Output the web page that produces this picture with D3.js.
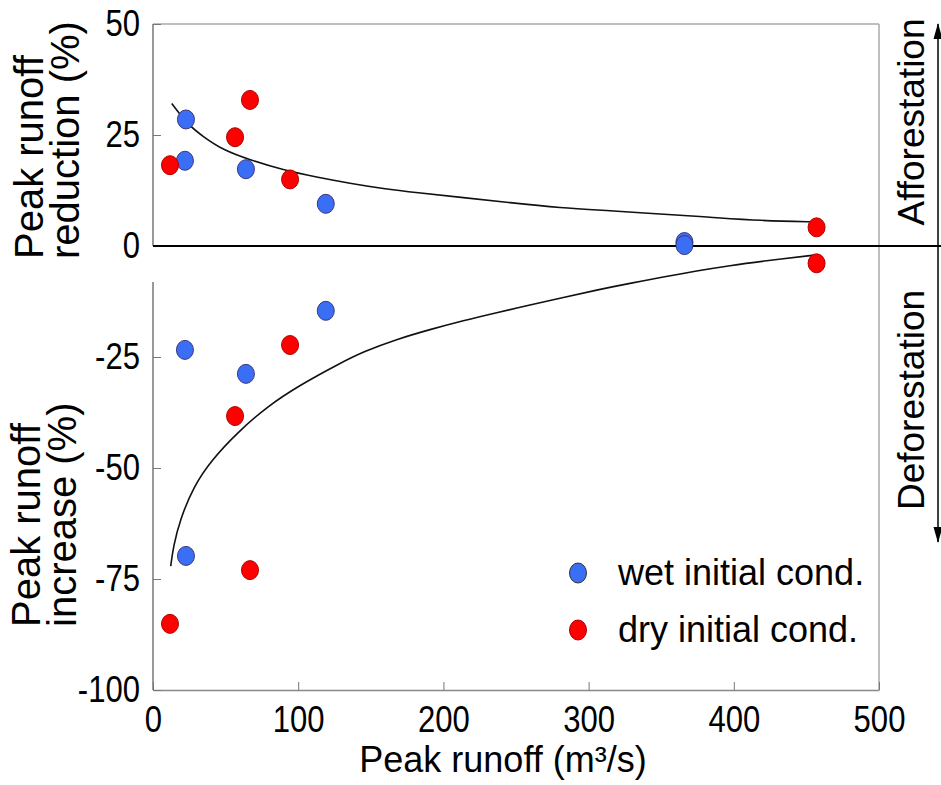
<!DOCTYPE html>
<html>
<head>
<meta charset="utf-8">
<script src="https://cdn.jsdelivr.net/npm/d3@7"></script>
<style>
  body { margin: 0; background: #fff; }
  svg { display: block; font-family: "Liberation Sans", Arial, sans-serif; }
</style>
</head>
<body>
<div id="chart"></div>
<script>
// Peak runoff change vs peak runoff, wet / dry initial conditions

const width = 941;
const height = 785;
const margin = {left: 153, right: 62, top: 24, bottom: 95};

// points (x = m3/s, y = %)
const wetX = [22.7, 22, 64, 119, 366, 366, 22, 64, 119, 22.7];
const wetY = [28.5, 19.2, 17.3, 9.5, 0.9, 0.2, -23.4, -28.8, -14.6, -69.8];
const dryX = [11.7, 56.5, 66.8, 94.4, 457, 457, 56.5, 94.4, 66.8, 11.7];
const dryY = [18.2, 24.5, 32.9, 15.0, 4.2, -3.9, -38.3, -22.3, -73, -85.1];

// fitted trend lines
const upX = [12.9, 23.2, 34.6, 48.4, 66.8, 89.7, 112.7, 135.7, 158.6, 181.6, 211.4, 245.9, 280.3, 314.7, 349.2, 383.6, 418, 457.1];
const upY = [32.1, 27.6, 24.6, 21.6, 19.4, 17.1, 15.5, 14.1, 12.9, 12.0, 11.0, 9.75, 8.6, 7.95, 7.2, 6.5, 5.7, 5.4];
const downX = [12.2, 14.0, 18.6, 27.8, 40.4, 57.6, 78.3, 101.2, 128.8, 144.8, 167.8, 190.8, 213.7, 236.7, 259.6, 282.6, 305.6, 328.5, 351.4, 374.4, 397.4, 420.3, 457.1];
const downY = [-72.1, -67.7, -61.7, -54.2, -48.2, -42.2, -36.2, -31.3, -26.4, -23.8, -21.0, -18.8, -16.8, -15.0, -13.3, -11.6, -9.9, -8.4, -7.0, -5.6, -4.4, -3.4, -2.0];

const xTicks = [0, 100, 200, 300, 400, 500];
const yTicks = [50, 25, 0, -25, -50, -75, -100];

const legendLabels = ["wet initial cond.", "dry initial cond."];
const blue = "#3a6ef5";
const red = "#ff0000";

const svg = d3.select("#chart")
  .append("svg")
  .attr("width", width)
  .attr("height", height);

svg.append("rect").attr("width", width).attr("height", height).attr("fill", "#fff");

const xScale = d3.scaleLinear()
  .domain([0, 500])
  .range([margin.left, width - margin.right]);

const yScale = d3.scaleLinear()
  .domain([-100, 50])
  .range([height - margin.bottom, margin.top]);

const x0 = xScale(0), x1 = xScale(500);
const yTop = yScale(50), yBot = yScale(-100), yZero = yScale(0);

// frame (top and right, light grey)
svg.append("line")
  .attr("x1", x0).attr("x2", x1).attr("y1", yTop).attr("y2", yTop)
  .attr("stroke", "#aaa").attr("stroke-width", 1.5);
svg.append("line")
  .attr("x1", x1).attr("x2", x1).attr("y1", yTop).attr("y2", yBot)
  .attr("stroke", "#aaa").attr("stroke-width", 1.5);

// x axis, ticks pointing inwards
const xAxis = svg.append("g")
  .attr("transform", `translate(0,${yBot})`)
  .call(d3.axisBottom(xScale).tickValues(xTicks).tickSizeInner(-8).tickSizeOuter(0)
    .tickFormat(d => String(d)));
xAxis.select(".domain").attr("stroke", "#888").attr("stroke-width", 1.5);
xAxis.selectAll(".tick line").attr("stroke", "#777");
xAxis.selectAll(".tick text")
  .attr("y", 42).attr("dy", null)
  .attr("font-size", "37px").attr("fill", "#000")
  .attr("transform", "scale(0.84,1)");

// y axis, ticks pointing inwards; plain hyphen for negatives
const yAxis = svg.append("g")
  .attr("transform", `translate(${x0},0)`)
  .call(d3.axisLeft(yScale).tickValues(yTicks).tickSizeInner(-8).tickSizeOuter(0)
    .tickFormat(d => String(d)));
yAxis.select(".domain").remove();
yAxis.selectAll(".tick line").attr("stroke", "#777");
yAxis.selectAll(".tick text")
  .attr("x", -13 / 0.84)
  .attr("font-size", "37px").attr("fill", "#000")
  .attr("transform", "scale(0.84,1)");

// left axis line is broken just under zero
svg.append("line")
  .attr("x1", x0).attr("x2", x0).attr("y1", yTop).attr("y2", yZero)
  .attr("stroke", "#777").attr("stroke-width", 1.5);
svg.append("line")
  .attr("x1", x0).attr("x2", x0).attr("y1", yZero + 36).attr("y2", yBot)
  .attr("stroke", "#777").attr("stroke-width", 1.5);

// zero line runs to the right edge
svg.append("line")
  .attr("x1", x0).attr("x2", width).attr("y1", yZero).attr("y2", yZero)
  .attr("stroke", "#000").attr("stroke-width", 2);

// trend lines
const line = d3.line()
  .x(d => xScale(d[0]))
  .y(d => yScale(d[1]))
  .curve(d3.curveBasis);

svg.append("path")
  .datum(d3.zip(upX, upY))
  .attr("d", line)
  .attr("fill", "none").attr("stroke", "#111").attr("stroke-width", 1.6);
svg.append("path")
  .datum(d3.zip(downX, downY))
  .attr("d", line)
  .attr("fill", "none").attr("stroke", "#111").attr("stroke-width", 1.6);

// points
svg.selectAll(".wet")
  .data(d3.zip(wetX, wetY))
  .enter()
  .append("ellipse")
  .attr("class", "wet")
  .attr("cx", d => xScale(d[0]))
  .attr("cy", d => yScale(d[1]))
  .attr("rx", 8.5).attr("ry", 9.5)
  .attr("fill", blue).attr("stroke", "#3b3580").attr("stroke-width", 1);

svg.selectAll(".dry")
  .data(d3.zip(dryX, dryY))
  .enter()
  .append("ellipse")
  .attr("class", "dry")
  .attr("cx", d => xScale(d[0]))
  .attr("cy", d => yScale(d[1]))
  .attr("rx", 8.5).attr("ry", 9.5)
  .attr("fill", red).attr("stroke", "#b00000").attr("stroke-width", 1);

// legend
const legend = svg.append("g").attr("transform", "translate(578,573)");
legend.selectAll("ellipse")
  .data(legendLabels)
  .enter()
  .append("ellipse")
  .attr("cx", 0)
  .attr("cy", (d, i) => i * 57)
  .attr("rx", 8.5).attr("ry", 10)
  .attr("fill", (d, i) => i === 0 ? blue : red)
  .attr("stroke", (d, i) => i === 0 ? "#333" : "#b00000")
  .attr("stroke-width", 1);
legend.selectAll("text")
  .data(legendLabels)
  .enter()
  .append("text")
  .attr("x", 40)
  .attr("y", (d, i) => i * 57 + 12)
  .attr("font-size", "36px")
  .attr("fill", "#000")
  .text(d => d);

// axis titles
svg.append("text")
  .attr("x", 503).attr("y", 772)
  .attr("text-anchor", "middle")
  .attr("font-size", "36px")
  .text("Peak runoff (m³/s)");

const yTitles = [
  {lines: ["Peak runoff", "reduction (%)"], start: 259, xs: [43, 79]},
  {lines: ["Peak runoff", "increase (%)"], start: 627, xs: [40, 76]}
];
yTitles.forEach(t => {
  t.lines.forEach((s, i) => {
    svg.append("text")
      .attr("transform", `translate(${t.xs[i]},${t.start}) rotate(-90)`)
      .attr("text-anchor", "start")
      .attr("font-size", "40px")
      .text(s);
  });
});

// right side: afforestation / deforestation arrow
const defs = svg.append("defs");
defs.append("marker")
  .attr("id", "head")
  .attr("viewBox", "0 0 16 10")
  .attr("refX", 15).attr("refY", 5)
  .attr("markerWidth", 16).attr("markerHeight", 10)
  .attr("markerUnits", "userSpaceOnUse")
  .attr("orient", "auto-start-reverse")
  .append("path")
  .attr("d", "M0,0.5 L16,5 L0,9.5 Z")
  .attr("fill", "#000");

svg.append("line")
  .attr("x1", 938).attr("x2", 938)
  .attr("y1", 24).attr("y2", 542)
  .attr("stroke", "#000").attr("stroke-width", 1.5)
  .attr("marker-start", "url(#head)")
  .attr("marker-end", "url(#head)");

svg.append("text")
  .attr("transform", "translate(924,122) rotate(-90)")
  .attr("text-anchor", "middle")
  .attr("font-size", "37px")
  .text("Afforestation");
svg.append("text")
  .attr("transform", "translate(924,400) rotate(-90)")
  .attr("text-anchor", "middle")
  .attr("font-size", "37px")
  .text("Deforestation");
</script>
</body>
</html>
